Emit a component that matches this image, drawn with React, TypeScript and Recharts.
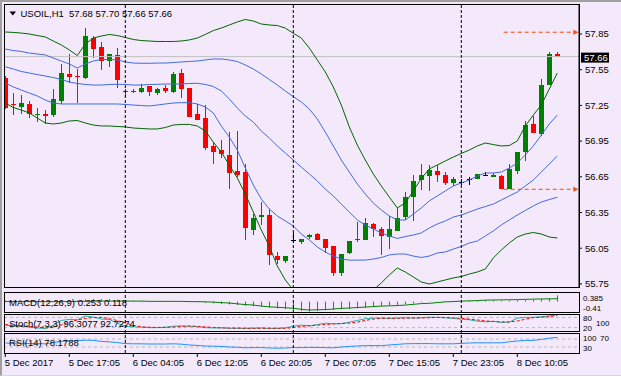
import { Bar, ComposedChart, Line, ReferenceLine, XAxis, YAxis } from "recharts";

const BG = "#F4E9FA";
const FONT = "'Liberation Sans', Arial, sans-serif";
const BULL = "#008000";
const BEAR = "#FF0000";
const BAND_GREEN = "#006400";
const BAND_BLUE = "#4169E1";

// H1 candles, left to right
const opens = [
  57.48, 57.26, 57.24, 57.26, 57.17, 57.175, 57.17, 57.29, 57.51, 57.50,
  57.48, 57.82, 57.74, 57.62, 57.67, 57.375, 57.375, 57.36, 57.41, 57.35,
  57.40, 57.36, 57.52, 57.40, 57.18, 57.14, 56.91, 56.875, 56.83, 56.70,
  56.69, 56.20, 56.31, 56.33, 55.985, 55.945, 56.115, 56.105, 56.14, 56.17,
  56.125, 56.07, 55.845, 56.01, 56.115, 56.115, 56.25, 56.21, 56.14, 56.195,
  56.31, 56.48, 56.625, 56.655, 56.70, 56.665, 56.595, 56.61, 56.63, 56.635,
  56.665, 56.65, 56.66, 56.55, 56.695, 56.855, 57.095, 57.01, 57.42, 57.68,
];
const highs = [
  57.50, 57.35, 57.34, 57.29, 57.23, 57.21, 57.39, 57.60, 57.68, 57.56,
  57.90, 57.83, 57.78, 57.68, 57.73, 57.385, 57.39, 57.43, 57.41, 57.40,
  57.42, 57.53, 57.56, 57.40, 57.26, 57.25, 56.93, 56.96, 57.03, 57.035,
  56.76, 56.34, 56.44, 56.38, 56.015, 55.985, 56.175, 56.125, 56.17, 56.175,
  56.125, 56.07, 56.00, 56.11, 56.27, 56.30, 56.265, 56.225, 56.32, 56.385,
  56.52, 56.665, 56.755, 56.75, 56.745, 56.69, 56.645, 56.63, 56.645, 56.675,
  56.69, 56.685, 56.665, 56.76, 56.855, 57.12, 57.16, 57.47, 57.70, 57.70,
];
const lows = [
  57.22, 57.17, 57.18, 57.14, 57.11, 57.09, 57.155, 57.26, 57.44, 57.27,
  57.47, 57.65, 57.55, 57.575, 57.40, 57.32, 57.35, 57.35, 57.33, 57.34,
  57.355, 57.35, 57.315, 57.15, 57.13, 56.875, 56.76, 56.805, 56.55, 56.65,
  56.12, 56.16, 56.245, 55.91, 55.92, 55.925, 56.09, 56.085, 56.13, 56.115,
  56.01, 55.815, 55.815, 56.00, 56.105, 56.115, 56.14, 55.995, 56.045, 56.195,
  56.29, 56.28, 56.54, 56.53, 56.61, 56.58, 56.575, 56.585, 56.58, 56.63,
  56.66, 56.645, 56.55, 56.55, 56.675, 56.78, 57.02, 56.99, 57.42, 57.66,
];
const closes = [
  57.23, 57.25, 57.27, 57.175, 57.18, 57.16, 57.30, 57.52, 57.49, 57.49,
  57.83, 57.72, 57.62, 57.68, 57.46, 57.36, 57.36, 57.40, 57.36, 57.385,
  57.37, 57.51, 57.39, 57.155, 57.13, 56.89, 56.86, 56.84, 56.685, 56.665,
  56.22, 56.30, 56.33, 55.99, 55.95, 55.985, 56.115, 56.125, 56.16, 56.115,
  56.055, 55.84, 56.00, 56.11, 56.125, 56.265, 56.21, 56.15, 56.21, 56.30,
  56.48, 56.615, 56.665, 56.705, 56.665, 56.60, 56.63, 56.61, 56.63, 56.675,
  56.665, 56.665, 56.55, 56.715, 56.855, 57.085, 57.02, 57.42, 57.68, 57.66,
];

// band lines on the price panel
const outerUpper = [
  57.867, 57.863, 57.858, 57.850, 57.837, 57.825, 57.791, 57.758, 57.716, 57.669,
  57.766, 57.816, 57.833, 57.846, 57.837, 57.821, 57.804, 57.795, 57.791, 57.787,
  57.787, 57.787, 57.791, 57.800, 57.816, 57.846, 57.879, 57.900, 57.926, 57.951,
  57.972, 57.959, 57.934, 57.926, 57.921, 57.900, 57.856, 57.816, 57.732, 57.632,
  57.531, 57.405, 57.253, 57.069, 56.917, 56.791, 56.674, 56.573, 56.480, 56.388,
  56.430, 56.531, 56.636, 56.716, 56.749, 56.783, 56.816, 56.846, 56.875, 56.909,
  56.934, 56.921, 56.909, 56.913, 56.951, 57.077, 57.169, 57.253, 57.388, 57.522,
];
const innerUpper = [
  57.724, 57.711, 57.703, 57.690, 57.682, 57.674, 57.648, 57.623, 57.598, 57.564,
  57.598, 57.623, 57.636, 57.636, 57.632, 57.615, 57.606, 57.604, 57.604, 57.606,
  57.606, 57.610, 57.615, 57.619, 57.623, 57.632, 57.640, 57.640, 57.632, 57.619,
  57.590, 57.556, 57.514, 57.468, 57.421, 57.371, 57.323, 57.279, 57.220, 57.136,
  57.026, 56.909, 56.791, 56.690, 56.590, 56.505, 56.430, 56.371, 56.321, 56.287,
  56.287, 56.337, 56.388, 56.447, 56.489, 56.531, 56.573, 56.598, 56.623, 56.657,
  56.682, 56.682, 56.690, 56.724, 56.766, 56.833, 56.909, 57.001, 57.094, 57.169,
];
const middleBand = [
  57.575, 57.556, 57.535, 57.522, 57.509, 57.497, 57.484, 57.468, 57.447, 57.434,
  57.426, 57.421, 57.421, 57.426, 57.427, 57.426, 57.421, 57.421, 57.426, 57.427,
  57.430, 57.430, 57.430, 57.434, 57.436, 57.426, 57.409, 57.371, 57.304, 57.228,
  57.161, 57.110, 57.035, 56.976, 56.909, 56.850, 56.791, 56.732, 56.674, 56.615,
  56.547, 56.489, 56.421, 56.354, 56.287, 56.245, 56.211, 56.178, 56.153, 56.132,
  56.148, 56.161, 56.178, 56.220, 56.253, 56.279, 56.312, 56.329, 56.354, 56.379,
  56.400, 56.421, 56.455, 56.489, 56.522, 56.573, 56.623, 56.690, 56.758, 56.825,
];
const innerLower = [
  57.438, 57.405, 57.379, 57.354, 57.329, 57.295, 57.270, 57.262, 57.262, 57.262,
  57.262, 57.262, 57.262, 57.262, 57.262, 57.258, 57.253, 57.249, 57.245, 57.253,
  57.262, 57.270, 57.273, 57.273, 57.262, 57.237, 57.186, 57.077, 56.984, 56.875,
  56.724, 56.581, 56.463, 56.379, 56.321, 56.279, 56.237, 56.169, 56.119, 56.060,
  56.018, 55.984, 55.959, 55.950, 55.950, 55.950, 55.959, 55.972, 55.993, 56.001,
  56.001, 55.984, 55.972, 55.984, 56.010, 56.018, 56.043, 56.064, 56.094, 56.110,
  56.153, 56.195, 56.245, 56.287, 56.329, 56.367, 56.405, 56.438, 56.459, 56.478,
];
const outerLower = [
  57.270, 57.232, 57.211, 57.186, 57.144, 57.102, 57.094, 57.102, 57.119, 57.123,
  57.102, 57.085, 57.077, 57.077, 57.073, 57.069, 57.060, 57.056, 57.052, 57.052,
  57.064, 57.085, 57.090, 57.090, 57.077, 57.035, 56.942, 56.858, 56.749, 56.640,
  56.505, 56.354, 56.203, 56.068, 55.900, 55.783, 55.699, 55.615, 55.531, 55.463,
  55.430, 55.413, 55.430, 55.480, 55.547, 55.632, 55.699, 55.758, 55.825, 55.884,
  55.850, 55.808, 55.766, 55.749, 55.766, 55.783, 55.800, 55.812, 55.833, 55.850,
  55.875, 55.968, 56.035, 56.094, 56.144, 56.169, 56.182, 56.169, 56.144, 56.136,
];

// MACD(12,26,9)
const macdMain = [
  0.05, 0.04, 0.03, 0.02, 0.01, 0.0, 0.01, 0.03, 0.05, 0.05,
  0.09, 0.10, 0.10, 0.10, 0.08, 0.05, 0.04, 0.03, 0.02, 0.02,
  0.01, 0.02, 0.01, -0.02, -0.03, -0.05, -0.07, -0.09, -0.11, -0.14,
  -0.165, -0.185, -0.205, -0.24, -0.27, -0.30, -0.34, -0.37, -0.40, -0.37,
  -0.35, -0.33, -0.31, -0.30, -0.27, -0.245, -0.205, -0.18, -0.15, -0.14,
  -0.10, -0.07, -0.03, -0.01, 0.01, 0.02, 0.03, 0.03, 0.04, 0.04,
  0.05, 0.05, 0.04, 0.05, 0.06, 0.065, 0.08, 0.105, 0.13, 0.253,
];
const macdSignal = [
  0.0, 0.0, 0.0, 0.0, 0.0, 0.0, 0.0, 0.0, 0.0, 0.01,
  0.01, 0.02, 0.02, 0.02, 0.02, 0.02, 0.02, 0.02, 0.01, 0.01,
  0.01, 0.01, 0.01, 0.0, 0.0, -0.01, -0.02, -0.04, -0.06, -0.09,
  -0.12, -0.14, -0.18, -0.21, -0.23, -0.25, -0.27, -0.31, -0.34, -0.33,
  -0.32, -0.30, -0.27, -0.26, -0.24, -0.22, -0.20, -0.18, -0.17, -0.16,
  -0.14, -0.11, -0.08, -0.07, -0.04, -0.01, 0.0, 0.02, 0.03, 0.04,
  0.06, 0.065, 0.07, 0.075, 0.08, 0.09, 0.10, 0.105, 0.11, 0.118,
];

// Stoch(7,3,3)
const stochMain = [
  35, 28, 30, 22, 18, 15, 32, 62, 68, 66,
  88, 82, 70, 68, 45, 28, 25, 22, 20, 20,
  22, 28, 30, 28, 25, 20, 18, 18, 16, 16,
  15, 16, 18, 15, 15, 18, 28, 35, 30, 38,
  46, 42, 43, 52, 62, 72, 76, 76, 74, 76,
  78, 76, 78, 81, 80, 78, 74, 70, 66, 58,
  54, 57, 50, 52, 76, 80, 80, 84, 89, 96.3077,
];
const stochSignal = [
  38, 33, 30, 27, 23, 18, 22, 36, 54, 65,
  74, 79, 80, 73, 61, 48, 33, 25, 22, 21,
  21, 23, 27, 29, 28, 24, 21, 19, 17, 17,
  16, 16, 16, 16, 16, 16, 20, 27, 31, 34,
  38, 42, 44, 46, 52, 62, 70, 75, 75, 75,
  76, 77, 77, 78, 80, 79, 77, 74, 70, 65,
  59, 56, 54, 53, 59, 69, 79, 81, 84, 92.7274,
];

// RSI(14)
const rsiValues = [
  50, 48, 49, 47, 47, 46, 52, 58, 60, 62,
  64, 63, 58, 56, 52, 47, 46, 46, 45, 45,
  45, 46, 44, 40, 38, 35, 34, 33, 30, 29,
  26, 27, 27, 25, 24, 25, 27, 27, 28, 28,
  27, 26, 30, 33, 35, 37, 37, 37, 40, 43,
  46, 47, 47, 47, 46, 46, 46, 48, 50, 51,
  51, 51, 51, 56, 60, 63, 63, 68, 74, 78.1788,
];

const timeTickBars = [0, 8, 16, 24, 32, 40, 48, 56, 64];
const timeTickLabels = [
  "5 Dec 2017", "5 Dec 17:05", "6 Dec 04:05", "6 Dec 12:05", "6 Dec 20:05",
  "7 Dec 07:05", "7 Dec 15:05", "7 Dec 23:05", "8 Dec 10:05",
];
const priceTicks = [57.85, 57.55, 57.25, 56.95, 56.65, 56.35, 56.05, 55.75];
const daySeparators = [15, 36, 57];
const lastPrice = 57.66;
const dayLevels = [
  { price: 57.865, from: 62.3, to: 71 },
  { price: 56.545, from: 62.3, to: 71 },
];
const macdScaleLabels = ["0.385", "-0.41"];
const stochScaleLabels = ["80", "100", "20"];
const rsiScaleLabels = ["100", "70", "30"];

const X_DOMAIN: [number, number] = [-0.1625, 71.7125];
const PRICE_DOMAIN: [number, number] = [55.7239, 58.1021];
const MACD_DOMAIN: [number, number] = [-0.419, 0.387];

const last = opens.length - 1;

const rows = opens.map((o, i) => ({
  i,
  o,
  h: highs[i],
  l: lows[i],
  c: closes[i],
  hl: [lows[i], highs[i]],
  gu: outerUpper[i],
  bu: innerUpper[i],
  bm: middleBand[i],
  bl: innerLower[i],
  gl: outerLower[i],
  macd: macdMain[i],
  sig: macdSignal[i],
  stm: stochMain[i],
  sts: stochSignal[i],
  rsi: rsiValues[i],
}));

function Candle(props: any) {
  const { x, y, width, height, payload } = props;
  if (x == null || y == null || !payload) return null;
  const cx = Math.round(x + (width || 0) / 2);
  const top = Math.min(y, y + height);
  const span = Math.abs(height);
  const { o, h, l, c } = payload;
  const py = (v: number) => top + ((h - v) / (h - l)) * span;
  const color = c === o ? "#000000" : c > o ? BULL : BEAR;
  const wickTop = Math.round(py(h));
  const wickBot = Math.round(py(l));
  const bodyTop = Math.round(py(Math.max(o, c)));
  const bodyBot = Math.round(py(Math.min(o, c)));
  return (
    <g>
      <rect x={cx} y={wickTop} width={1} height={Math.max(1, wickBot - wickTop)} fill={color} />
      <rect x={cx - 2} y={bodyTop} width={5} height={Math.max(1, bodyBot - bodyTop)} fill={color} />
    </g>
  );
}

function HistLine(props: any) {
  const { x, y, width, height } = props;
  if (x == null || y == null || !height) return null;
  const cx = Math.round(x + (width || 0) / 2);
  return <rect x={cx} y={Math.min(y, y + height)} width={1} height={Math.abs(height)} fill="#9932CC" />;
}

function PriceTag(props: any) {
  const vb = props.viewBox;
  if (!vb) return null;
  const x = vb.x + vb.width + 2;
  const y = vb.y;
  return (
    <g>
      <rect x={x} y={y - 4} width={28} height={10} fill="#000" />
      <text x={x + 3} y={y + 4.5} fill="#fff" fontSize={9.5} fontFamily={FONT}>
        {lastPrice.toFixed(2)}
      </text>
    </g>
  );
}

function ArrowHead(props: any) {
  const vb = props.viewBox;
  if (!vb) return null;
  const x = vb.x + vb.width;
  const y = vb.y;
  return <polygon points={`${x},${y - 2.5} ${x + 5},${y} ${x},${y + 2.5}`} fill="#FF4500" />;
}

function TimeTick(props: any) {
  const { x, y, payload } = props;
  const k = timeTickBars.indexOf(payload.value);
  return (
    <text x={x - 0.5} y={y + 9} fontSize={9.5} fontFamily={FONT} fill="#000">
      {timeTickLabels[k]}
    </text>
  );
}

const abs = (left: number, top: number): React.CSSProperties => ({ position: "absolute", left, top });

const border = (top: number, height: number): React.CSSProperties => ({
  position: "absolute",
  left: 4,
  top,
  width: 576,
  height,
  boxSizing: "border-box",
  border: "1px solid #000",
  pointerEvents: "none",
});

const hiddenX = (
  <XAxis dataKey="i" type="number" domain={X_DOMAIN} allowDataOverflow hide />
);

export default function App() {
  const lineProps = { dot: false, activeDot: false, isAnimationActive: false, strokeWidth: 1, type: "linear" as const };
  return (
    <div
      style={{
        position: "fixed",
        left: 0,
        top: 0,
        width: 621,
        height: 376,
        background: BG,
        overflow: "hidden",
        fontFamily: FONT,
      }}
    >
      {/* price panel */}
      <div style={abs(0, 0)}>
        <ComposedChart width={621} height={292} data={rows} margin={{ top: 4, right: 0, bottom: 5, left: 4 }}>
          {hiddenX}
          <YAxis
            orientation="right"
            width={42}
            domain={PRICE_DOMAIN}
            allowDataOverflow
            ticks={priceTicks}
            interval={0}
            tickFormatter={(v: number) => v.toFixed(2)}
            tick={{ fontSize: 9.5, fill: "#000", fontFamily: FONT }}
            tickSize={3}
            tickMargin={3}
            axisLine={{ stroke: "#000" }}
            tickLine={{ stroke: "#000" }}
          />
          <ReferenceLine y={lastPrice} stroke="#C0C0C0" label={(p: any) => <PriceTag {...p} />} />
          {dayLevels.map((lv, k) => (
            <ReferenceLine
              key={k}
              segment={[{ x: lv.from, y: lv.price }, { x: lv.to, y: lv.price }]}
              stroke="#FF4500"
              strokeDasharray="4 3"
              label={(p: any) => <ArrowHead {...p} />}
            />
          ))}
          <Bar dataKey="hl" shape={(p: any) => <Candle {...p} />} isAnimationActive={false} />
          <Line dataKey="gu" stroke={BAND_GREEN} {...lineProps} />
          <Line dataKey="bu" stroke={BAND_BLUE} {...lineProps} />
          <Line dataKey="bm" stroke={BAND_BLUE} {...lineProps} />
          <Line dataKey="bl" stroke={BAND_BLUE} {...lineProps} />
          <Line dataKey="gl" stroke={BAND_GREEN} {...lineProps} />
        </ComposedChart>
      </div>

      {/* MACD */}
      <div style={abs(0, 292)}>
        <ComposedChart width={621} height={20} data={rows} margin={{ top: 0, right: 42, bottom: 0, left: 4 }}>
          {hiddenX}
          <YAxis hide domain={MACD_DOMAIN} allowDataOverflow />
          <Bar dataKey="macd" shape={(p: any) => <HistLine {...p} />} isAnimationActive={false} />
          <Line dataKey="sig" stroke="#008000" {...lineProps} />
        </ComposedChart>
      </div>

      {/* Stochastic */}
      <div style={abs(0, 314)}>
        <ComposedChart width={621} height={17} data={rows} margin={{ top: 0, right: 42, bottom: 0, left: 4 }}>
          {hiddenX}
          <YAxis hide domain={[0, 100]} allowDataOverflow />
          <ReferenceLine y={80} stroke="#B8B8B8" strokeDasharray="3 3" />
          <ReferenceLine y={20} stroke="#B8B8B8" strokeDasharray="3 3" />
          <Line dataKey="stm" stroke="#20B2AA" {...lineProps} />
          <Line dataKey="sts" stroke="#FF0000" strokeDasharray="3 2" {...lineProps} />
        </ComposedChart>
      </div>

      {/* RSI + time axis */}
      <div style={abs(0, 333)}>
        <ComposedChart width={621} height={40} data={rows} margin={{ top: 0, right: 42, bottom: 0, left: 4 }}>
          <XAxis
            dataKey="i"
            type="number"
            domain={X_DOMAIN}
            allowDataOverflow
            ticks={timeTickBars}
            interval={0}
            height={20}
            tickSize={4}
            tickMargin={0}
            axisLine={false}
            tickLine={{ stroke: "#000" }}
            tick={(p: any) => <TimeTick {...p} />}
          />
          <YAxis hide domain={[0, 100]} allowDataOverflow />
          <ReferenceLine y={70} stroke="#B8B8B8" strokeDasharray="3 3" />
          <ReferenceLine y={30} stroke="#B8B8B8" strokeDasharray="3 3" />
          <Line dataKey="rsi" stroke="#1E90FF" {...lineProps} />
        </ComposedChart>
      </div>

      {/* day separators across all panels */}
      <div style={{ ...abs(0, 0), pointerEvents: "none" }}>
        <ComposedChart width={621} height={353} data={rows} margin={{ top: 4, right: 42, bottom: 0, left: 4 }}>
          {hiddenX}
          <YAxis hide domain={[0, 1]} allowDataOverflow />
          {daySeparators.map((d) => (
            <ReferenceLine key={d} x={d} stroke="#000" strokeDasharray="3 2" />
          ))}
        </ComposedChart>
      </div>

      {/* panel frames */}
      <div style={border(4, 284)} />
      <div style={border(292, 21)} />
      <div style={border(314, 18)} />
      <div style={border(333, 21)} />

      {/* titles and side labels */}
      <svg width={621} height={376} style={{ position: "absolute", left: 0, top: 0, pointerEvents: "none" }} fontFamily={FONT} fontSize={9.5} fill="#000">
        <polygon points="9.5,11.5 16,11.5 12.75,15.5" fill="#000" />
        <text x={20.5} y={17} style={{ whiteSpace: "pre" }}>
          {`USOIL,H1  ${opens[last].toFixed(2)} ${highs[last].toFixed(2)} ${lows[last].toFixed(2)} ${closes[last].toFixed(2)}`}
        </text>
        <text x={9} y={305.5}>{`MACD(12,26,9) ${macdMain[last].toFixed(3)} ${macdSignal[last].toFixed(3)}`}</text>
        <text x={9} y={326.5}>{`Stoch(7,3,3) ${stochMain[last].toFixed(4)} ${stochSignal[last].toFixed(4)}`}</text>
        <text x={9} y={346}>{`RSI(14) ${rsiValues[last].toFixed(4)}`}</text>
        <g fontSize={8}>
          <text x={583} y={300.5}>{macdScaleLabels[0]}</text>
          <text x={583} y={311}>{macdScaleLabels[1]}</text>
          <text x={583} y={320.5}>{stochScaleLabels[0]}</text>
          <text x={596} y={325.5}>{stochScaleLabels[1]}</text>
          <text x={583} y={330.5}>{stochScaleLabels[2]}</text>
          <text x={583} y={341}>{rsiScaleLabels[0]}</text>
          <text x={600} y={341}>{rsiScaleLabels[1]}</text>
          <text x={583} y={351}>{rsiScaleLabels[2]}</text>
        </g>
      </svg>

      {/* window frame */}
      <div
        style={{
          position: "absolute",
          left: 0,
          top: 0,
          width: 621,
          height: 376,
          boxSizing: "border-box",
          borderTop: "2px solid #A0A0A0",
          borderLeft: "2px solid #A0A0A0",
          borderBottom: "1px solid #D8D8D8",
          pointerEvents: "none",
        }}
      />
    </div>
  );
}
